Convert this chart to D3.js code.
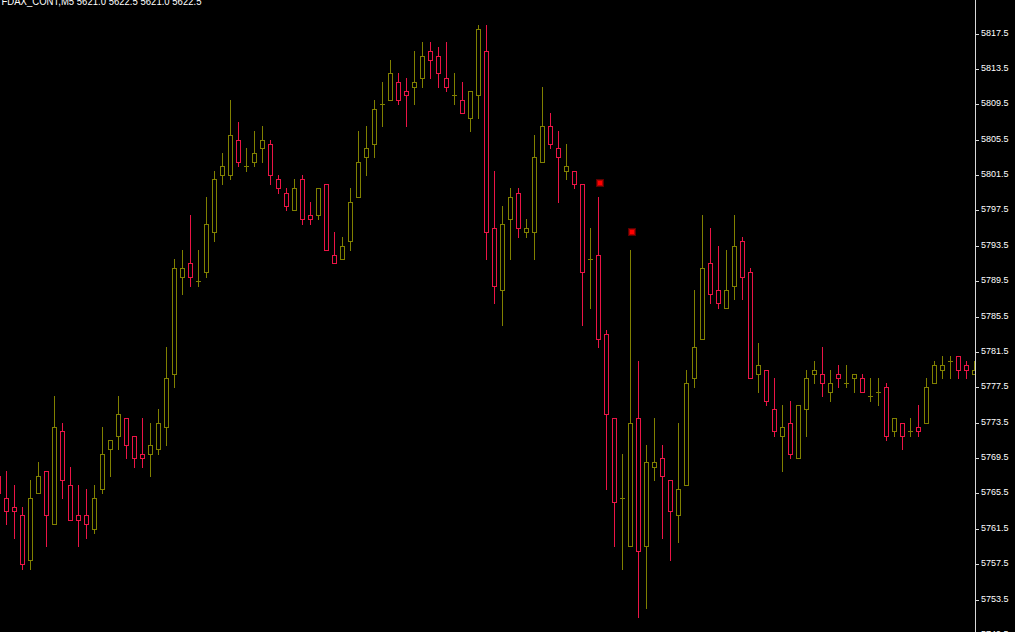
<!DOCTYPE html>
<html><head><meta charset="utf-8">
<script src="https://cdn.jsdelivr.net/npm/d3@7"></script>
<style>html,body{margin:0;padding:0;background:#000;overflow:hidden}svg{display:block}</style>
</head><body><svg id="c" width="1015" height="632"></svg>
<script>
const title = "FDAX_CONT,M5  5621.0 5622.5 5621.0 5622.5";
const open = [5767.5,5765.0,5764.0,5763.0,5758.0,5765.5,5768.0,5762.0,5772.5,5766.5,5763.0,5763.0,5761.5,5766.0,5770.5,5772.0,5774.0,5772.0,5770.0,5770.0,5770.5,5773.0,5779.0,5790.0,5791.5,5789.5,5790.5,5795.0,5801.5,5801.5,5805.5,5802.5,5803.0,5804.5,5805.0,5801.0,5799.5,5797.5,5801.0,5797.0,5797.0,5800.5,5792.5,5792.0,5794.0,5799.0,5803.5,5805.0,5809.5,5810.0,5812.0,5811.0,5811.5,5812.5,5815.5,5815.0,5812.5,5810.5,5810.0,5808.0,5810.5,5815.5,5795.5,5788.5,5796.5,5799.5,5795.0,5795.0,5803.0,5807.0,5804.5,5802.0,5802.0,5800.5,5792.0,5792.5,5783.5,5774.0,5765.0,5759.5,5774.0,5759.5,5768.5,5769.5,5767.0,5763.0,5766.5,5778.5,5783.0,5791.5,5788.5,5786.5,5789.0,5794.0,5790.5,5779.0,5779.5,5775.0,5772.0,5773.5,5769.5,5775.0,5779.0,5779.0,5777.0,5779.0,5778.0,5778.5,5778.5,5776.5,5777.0,5777.5,5772.5,5773.5,5772.5,5773.0,5773.5,5778.0,5779.5,5780.5,5781.0,5780.0,5779.0];
const high = [5768.5,5768.0,5766.5,5764.0,5767.0,5769.0,5768.0,5776.5,5773.5,5768.5,5766.5,5766.0,5766.5,5773.0,5771.5,5776.5,5774.0,5772.0,5774.0,5773.5,5775.0,5782.0,5792.0,5793.0,5797.0,5793.0,5799.0,5802.0,5804.0,5810.0,5807.5,5804.5,5806.5,5807.0,5805.5,5801.5,5800.0,5801.0,5801.5,5798.5,5800.0,5800.5,5795.0,5794.5,5800.0,5806.5,5807.0,5810.0,5812.0,5814.5,5813.0,5812.5,5815.5,5816.5,5816.5,5816.0,5816.5,5813.0,5812.0,5811.0,5818.5,5818.5,5802.0,5798.0,5800.0,5800.0,5796.5,5806.0,5811.5,5808.5,5806.5,5805.0,5802.0,5800.5,5795.5,5799.0,5784.0,5774.0,5770.0,5793.0,5780.5,5771.0,5774.0,5771.0,5767.0,5773.5,5779.5,5788.5,5797.0,5795.5,5793.5,5793.0,5797.0,5794.5,5791.0,5782.5,5779.5,5778.5,5775.5,5776.0,5775.5,5779.5,5780.5,5782.0,5779.5,5780.0,5780.0,5779.0,5779.0,5778.5,5778.5,5778.0,5774.0,5773.5,5774.0,5775.5,5778.5,5780.5,5781.0,5781.0,5781.0,5780.5,5780.5];
const low = [5765.0,5762.0,5760.5,5757.0,5757.0,5765.5,5759.5,5762.0,5765.0,5762.5,5759.5,5760.5,5761.0,5765.5,5767.5,5770.5,5769.5,5768.5,5768.5,5767.5,5770.0,5771.0,5777.5,5788.0,5789.0,5789.0,5790.0,5794.0,5800.5,5801.0,5802.5,5802.0,5802.5,5803.0,5800.5,5799.5,5797.5,5797.5,5796.0,5796.0,5796.5,5793.0,5791.5,5792.0,5793.0,5799.0,5801.5,5803.5,5807.0,5810.0,5809.5,5807.0,5809.5,5811.5,5812.5,5811.5,5811.0,5809.5,5808.5,5806.5,5808.0,5792.0,5787.0,5784.5,5792.0,5794.5,5794.5,5792.0,5803.0,5804.5,5798.5,5801.0,5800.0,5784.5,5786.5,5782.0,5766.0,5759.5,5757.0,5759.5,5751.5,5752.5,5767.0,5760.5,5758.0,5760.0,5766.5,5777.5,5783.0,5787.0,5786.5,5786.5,5787.5,5787.5,5778.5,5777.0,5775.5,5772.0,5768.0,5769.5,5769.5,5772.0,5778.0,5776.5,5776.0,5777.5,5777.5,5777.0,5777.0,5776.0,5775.5,5771.5,5772.0,5770.5,5772.0,5772.0,5773.5,5778.0,5778.5,5778.5,5778.5,5778.5,5779.0];
const close = [5765.5,5763.5,5763.5,5757.5,5765.0,5767.5,5763.0,5773.0,5767.0,5762.5,5762.5,5762.0,5765.0,5770.0,5771.5,5774.5,5771.0,5769.5,5769.5,5771.0,5773.5,5778.5,5791.0,5791.0,5790.0,5789.5,5796.0,5801.0,5802.5,5806.0,5803.0,5802.5,5804.0,5805.5,5801.5,5800.0,5798.0,5800.0,5796.5,5796.5,5800.0,5793.0,5791.5,5793.5,5798.5,5803.0,5804.5,5809.0,5809.5,5813.0,5810.0,5810.5,5812.0,5815.0,5814.5,5813.0,5811.5,5810.5,5808.5,5811.0,5818.0,5795.0,5789.0,5796.0,5799.0,5795.5,5795.5,5803.5,5807.0,5805.0,5803.5,5802.5,5800.5,5790.5,5792.0,5783.0,5774.5,5764.5,5765.0,5773.5,5759.0,5769.0,5769.0,5767.5,5763.5,5766.0,5778.0,5782.0,5791.0,5788.0,5787.0,5788.5,5793.5,5790.0,5778.5,5780.0,5776.0,5772.5,5773.0,5770.0,5775.5,5778.5,5779.5,5778.0,5778.0,5778.5,5778.0,5779.0,5777.0,5776.5,5777.0,5772.0,5774.0,5772.0,5772.5,5772.5,5777.5,5780.0,5780.0,5780.5,5779.5,5779.5,5779.5];
const markerBar = [75, 79];
const markerPrice = [5800.5, 5795.0];
const yTicks = [5821.5,5817.5,5813.5,5809.5,5805.5,5801.5,5797.5,5793.5,5789.5,5785.5,5781.5,5777.5,5773.5,5769.5,5765.5,5761.5,5757.5,5753.5,5749.5];

const W = 1015, H = 632, axisX = 975;
const UP = "#808000", DOWN = "#eb1446";
const svg = d3.select("#c");
svg.append("rect").attr("width", W).attr("height", H).attr("fill", "#000");

const n = open.length;
const x = d3.scaleLinear().domain([0, n - 1]).range([-2, -2 + 8 * (n - 1)]);
const y = d3.scaleLinear().domain([5817.5, 5753.5]).range([33.5, 33.5 + 64 * 8.844]);
const col = i => Math.round(x(i));
const py = v => Math.round(y(v)) + 0.5;

svg.append("clipPath").attr("id", "plot").append("rect")
  .attr("x", 0).attr("y", 0).attr("width", axisX).attr("height", H);
const g = svg.append("g").attr("clip-path", "url(#plot)");

const bars = d3.range(n).map(i => ({i, o: open[i], h: high[i], l: low[i], c: close[i]}));
const cg = g.selectAll("g.candle").data(bars).join("g")
  .attr("stroke", d => d.c < d.o ? DOWN : UP)
  .attr("stroke-width", 1).attr("shape-rendering", "crispEdges");

cg.append("line")
  .attr("x1", d => col(d.i) + 0.5).attr("x2", d => col(d.i) + 0.5)
  .attr("y1", d => py(d.h) - 0.5).attr("y2", d => py(d.l) + 0.5);

cg.each(function(d) {
  const s = d3.select(this);
  const t = py(Math.max(d.o, d.c)), b = py(Math.min(d.o, d.c));
  if (b - t < 1) {
    s.append("line").attr("x1", col(d.i) - 2).attr("x2", col(d.i) + 3)
      .attr("y1", t).attr("y2", t);
  } else {
    s.append("rect").attr("x", col(d.i) - 1.5).attr("width", 4)
      .attr("y", t).attr("height", b - t).attr("fill", "#000");
  }
});

// markers
markerBar.forEach((bi, k) => {
  const cx = col(bi) + 1.5, cy = y(markerPrice[k]) - 0.5;
  g.append("rect").attr("x", Math.round(cx - 4)).attr("y", Math.round(cy - 4))
    .attr("width", 8).attr("height", 8).attr("fill", "#5a0000");
  g.append("rect").attr("x", Math.round(cx - 3)).attr("y", Math.round(cy - 3))
    .attr("width", 6).attr("height", 6).attr("fill", "#b00000");
  g.append("rect").attr("x", Math.round(cx - 2)).attr("y", Math.round(cy - 2))
    .attr("width", 4).attr("height", 4).attr("fill", "#ff0000");
});

// right price axis
const ax = svg.append("g");
ax.append("line").attr("x1", axisX + 0.5).attr("x2", axisX + 0.5).attr("y1", 0).attr("y2", H)
  .attr("stroke", "#d8d8d8").attr("shape-rendering", "crispEdges");
yTicks.forEach(t => {
  const ty = py(t);
  ax.append("line").attr("x1", axisX + 1).attr("x2", axisX + 4).attr("y1", ty).attr("y2", ty)
    .attr("stroke", "#d8d8d8").attr("shape-rendering", "crispEdges");
  ax.append("text").attr("x", axisX + 6).attr("y", ty + 1.5)
    .attr("fill", "#ffffff").attr("font-family", "'Liberation Sans', Arial, sans-serif")
    .attr("font-size", "9.5px").attr("textLength", 27.5).attr("lengthAdjust", "spacingAndGlyphs")
    .text(t.toFixed(1));
});

svg.append("text").attr("x", 1.5).attr("y", 4.5)
  .attr("fill", "#ffffff").attr("font-family", "'Liberation Sans', Arial, sans-serif")
  .attr("font-size", "10px").attr("textLength", 200).attr("lengthAdjust", "spacingAndGlyphs")
  .text(title);
</script>
</body></html>
